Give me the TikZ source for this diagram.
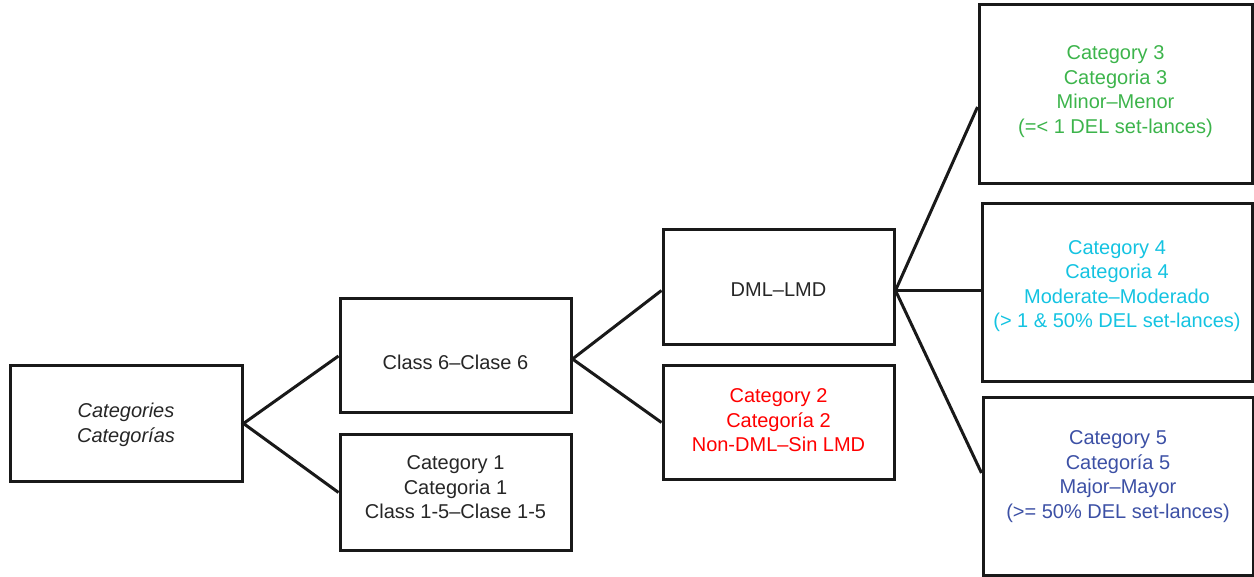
\documentclass[tikz,border=0pt]{standalone}
\usepackage{fontspec}
\setmainfont{Liberation Sans}
\usetikzlibrary{calc}
\definecolor{cgreen}{RGB}{60,180,75}
\definecolor{ccyan}{RGB}{20,195,225}
\definecolor{cblue}{RGB}{60,80,165}
\definecolor{cred}{RGB}{255,0,0}
\tikzset{
  box/.style={draw=black!90, line width=3pt, inner sep=0pt},
  lbl/.style={inner sep=0pt, align=center, font=\fontsize{20}{24.5}\selectfont, text=black!85},
  conn/.style={draw=black!90, line width=3pt, line join=miter}
}
\begin{document}
\begin{tikzpicture}[x=1pt,y=-1pt]
\useasboundingbox (0,0) rectangle (1254,577);
\node[box, minimum width=232pt, minimum height=115pt,
  label={[lbl, yshift=-1.5pt, font=\fontsize{20}{24.5}\selectfont\itshape]center:Categories\\Categorías}] (cats) at (126,423.5) {};
\node[box, minimum width=231pt, minimum height=114pt,
  label={[lbl, yshift=-6pt]center:Class 6--Clase 6}] (c6) at (455.5,356) {};
\node[box, minimum width=231pt, minimum height=115pt,
  label={[lbl, yshift=5pt]center:Category 1\\Categoria 1\\Class 1-5--Clase 1-5}] (c1) at (455.5,492.5) {};
\node[box, minimum width=231pt, minimum height=115pt,
  label={[lbl, yshift=-2pt]center:DML--LMD}] (dml) at (778.5,287.5) {};
\node[box, minimum width=231pt, minimum height=113pt,
  label={[lbl, yshift=2pt, text=cred]center:Category 2\\Categoría 2\\Non-DML--Sin LMD}] (c2) at (778.5,422.5) {};
\node[box, minimum width=273pt, minimum height=179pt,
  label={[lbl, yshift=3pt, text=cgreen]center:Category 3\\Categoria 3\\Minor--Menor\\(=< 1 DEL set-lances)}] (c3) at (1115.5,94.5) {};
\node[box, minimum width=270pt, minimum height=178pt,
  label={[lbl, yshift=7pt, text=ccyan]center:Category 4\\Categoria 4\\Moderate--Moderado\\(> 1 \& 50\% DEL set-lances)}] (c4) at (1117,293) {};
\node[box, minimum width=270pt, minimum height=177pt,
  label={[lbl, yshift=10pt, text=cblue]center:Category 5\\Categoría 5\\Major--Mayor\\(>= 50\% DEL set-lances)}] (c5) at (1118,486.5) {};
\coordinate (c6out) at ($(c6.east)+(0,3)$);
\coordinate (dmlin) at ($(dml.west)+(0,3)$);
\coordinate (dmlout) at ($(dml.east)+(0,3)$);
\coordinate (c3in) at ($(c3.west)+(0,12.5)$);
\coordinate (c4in) at ($(c4.west)+(0,-2.5)$);
\coordinate (c5in) at ($(c5.west)+(0,-13.5)$);
\draw[conn] (c6.west) -- (cats.east) -- (c1.west);
\draw[conn] (dmlin) -- (c6out) -- (c2.west);
\draw[conn] (c3in) -- (dmlout) -- (c5in);
\draw[conn] (dmlout) -- (c4in);
\end{tikzpicture}
\end{document}
